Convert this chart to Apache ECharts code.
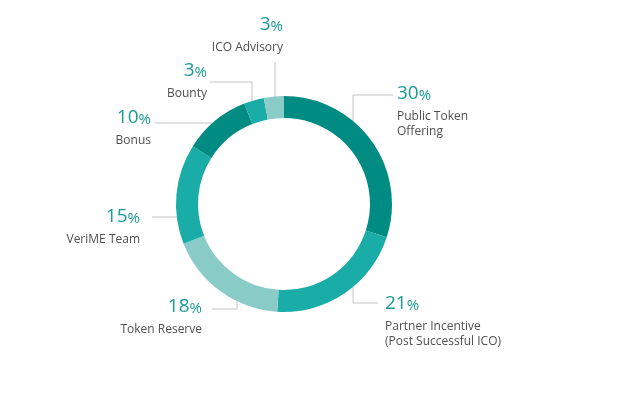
<!DOCTYPE html>
<html>
<head>
    <meta charset="utf-8">
    <title>Token Distribution</title>
    <script src="https://cdn.jsdelivr.net/npm/echarts@6/dist/echarts.min.js"></script>
    <style>
        html, body { margin: 0; padding: 0; background: #fff; }
        #main { width: 640px; height: 397px; }
    </style>
</head>
<body>
<div id="main"></div>
<script>
    // data (clockwise from 12 o'clock)
    var names = ['Public Token\nOffering', 'Partner Incentive\n(Post Successful ICO)', 'Token Reserve',
        'VeriME Team', 'Bonus', 'Bounty', 'ICO Advisory'];
    var values = [30, 21, 18, 15, 10, 3, 3];

    var palette = ['#008b83', '#1aaca6', '#89cbc7', '#1aaca6', '#008b83', '#1aaca6', '#89cbc7'];

    // ring geometry
    var CX = 284, CY = 204, R0 = 86, R1 = 108;

    // label placement: text anchor (x, top y, align) and leader line (y of the
    // horizontal run, its far end, and x where it leaves the ring if it goes up/down first)
    var labelPos = [
        {x: 397, y: 84,  align: 'left',  lineY: 95,  endX: 393, ringX: 353, side: -1},
        {x: 385, y: 294, align: 'left',  lineY: 303, endX: 378, ringX: 353, side: 1},
        {x: 202, y: 297, align: 'right', lineY: 309, endX: 212, ringX: 237, side: 1},
        {x: 140, y: 207, align: 'right', lineY: 217, endX: 152, ringX: null},
        {x: 151, y: 108, align: 'right', lineY: 123, endX: 155, ringX: null},
        {x: 207, y: 61,  align: 'right', lineY: 82,  endX: 210, ringX: 252, side: -1},
        {x: 283, y: 15,  align: 'right', lineY: 62,  endX: 275, ringX: 275, side: -1}
    ];

    function ringPoint(lp) {
        if (lp.ringX != null) {
            var dx = lp.ringX - CX;
            return [lp.ringX, CY + lp.side * Math.sqrt(R1 * R1 - dx * dx)];
        }
        var dy = lp.lineY - CY;
        return [CX - Math.sqrt(R1 * R1 - dy * dy), lp.lineY];
    }

    var seriesData = names.map(function (n, i) {
        return {name: n, value: values[i], itemStyle: {color: palette[i]}};
    });

    var myChart = echarts.init(document.getElementById('main'), null, {renderer: 'canvas'});

    var option = {
        backgroundColor: '#ffffff',
        animation: false,
        series: [{
            type: 'pie',
            center: [CX, CY],
            radius: [R0, R1],
            startAngle: 90,
            clockwise: true,
            silent: true,
            itemStyle: {borderWidth: 0},
            label: {
                show: true,
                position: 'outside',
                fontFamily: 'Open Sans',
                formatter: function (p) {
                    return '{p|' + p.value + '}{s|%}\n{n|' + p.name + '}';
                },
                rich: {
                    p: {fontSize: 19, color: '#1a9b95', fontFamily: 'Open Sans',
                        verticalAlign: 'bottom', padding: [0, 0, 6, 0]},
                    s: {fontSize: 15, color: '#1a9b95', fontFamily: 'Open Sans',
                        verticalAlign: 'bottom', padding: [0, 0, 6, 0]},
                    n: {fontSize: 12, color: '#4f4f4f', fontFamily: 'Open Sans', lineHeight: 15}
                }
            },
            labelLine: {
                show: true,
                lineStyle: {color: '#c4c4c4', width: 1}
            },
            labelLayout: function (params) {
                var lp = labelPos[params.dataIndex];
                var a = ringPoint(lp);
                var b = lp.ringX != null ? [lp.ringX, lp.lineY] : [a[0], lp.lineY];
                return {
                    x: lp.x,
                    y: lp.y,
                    align: lp.align,
                    verticalAlign: 'top',
                    labelLinePoints: [a, b, [lp.endX, lp.lineY]]
                };
            },
            data: seriesData
        }]
    };

    myChart.setOption(option);
</script>
</body>
</html>
